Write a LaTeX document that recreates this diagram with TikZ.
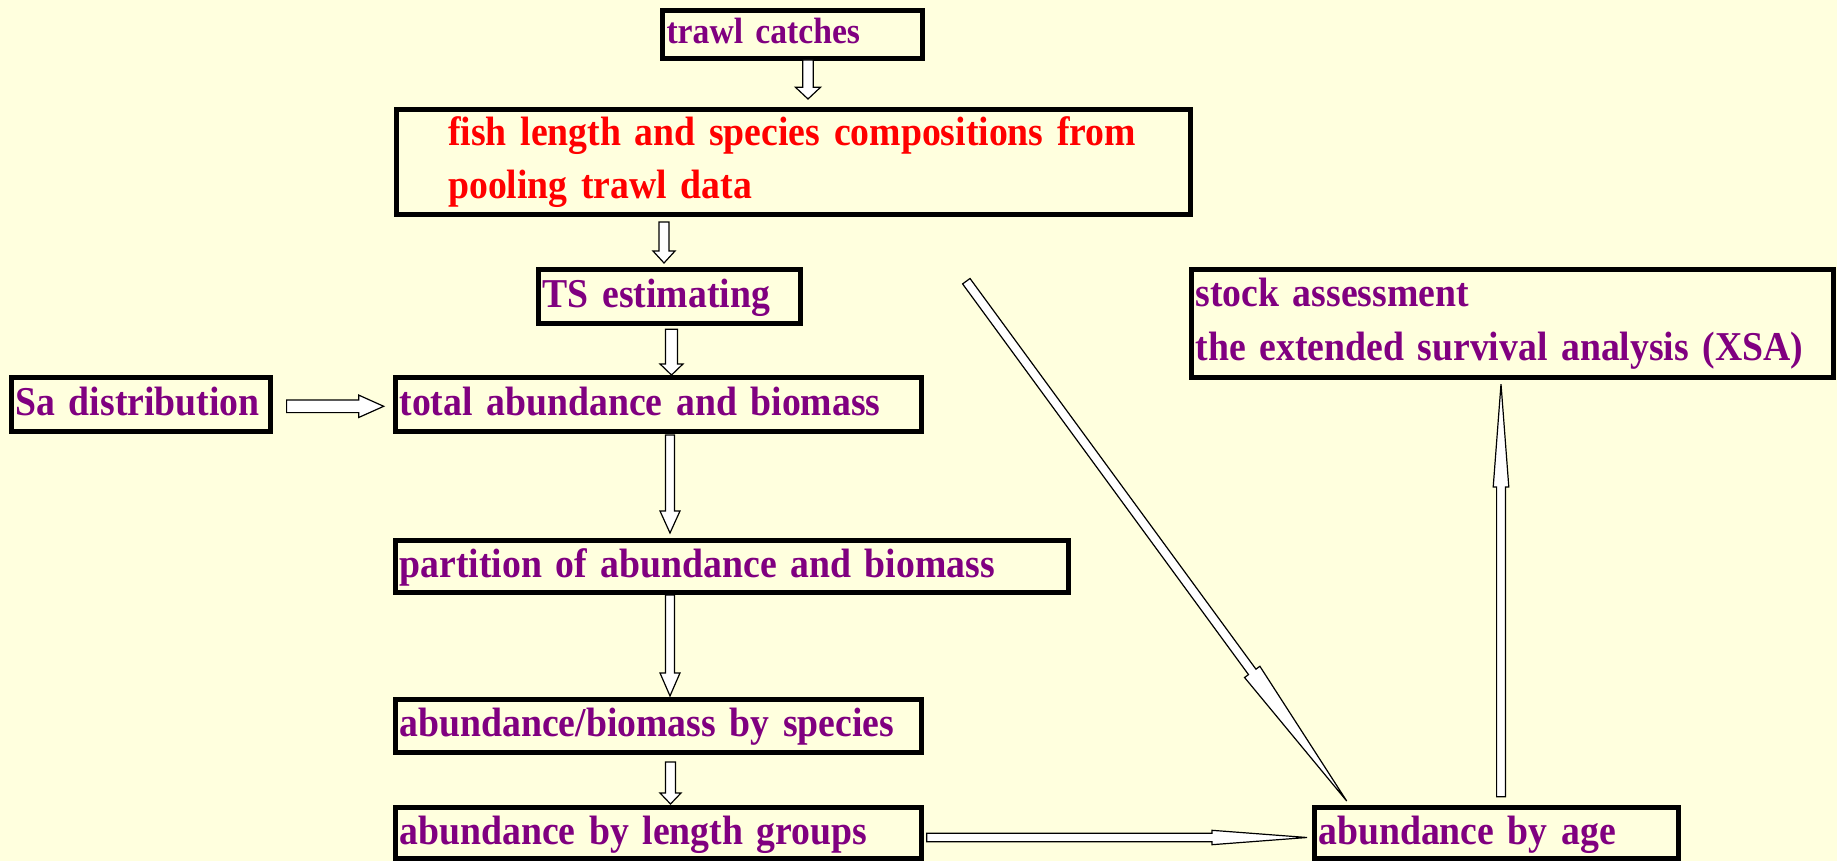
\documentclass[tikz,border=0pt]{standalone}
\usepackage{fontspec}
\setmainfont[FakeStretch=0.92]{Liberation Serif}
\usepackage{tikz}
\usetikzlibrary{calc}
\definecolor{paper}{RGB}{255,255,222}
\definecolor{boxtext}{RGB}{128,0,128}
\protected\def\tightwords{\spaceskip=0.18em\relax}
\tikzset{%
  box/.style={draw, line width=2.5pt, fill=paper, inner xsep=2pt, inner ysep=0pt,
    align=left, text=boxtext, font=\fontsize{20.5}{26.6}\selectfont\bfseries\tightwords},
  single/.style={box, text height=13.8pt, text depth=2.8pt},
  hollow/.style={draw=black, fill=white, line width=0.6pt}
}
% tail, tip, shaft half width, head half width, head length
\newcommand{\hollowarrow}[5]{%
  \draw[hollow] ($(#1)!#3!90:(#2)$)
    -- ($(#2)!#5!(#1)!#3!-90:(#1)$)
    -- ($(#2)!#5!(#1)!#4!-90:(#1)$)
    -- (#2)
    -- ($(#2)!#5!(#1)!#4!90:(#1)$)
    -- ($(#2)!#5!(#1)!#3!90:(#1)$)
    -- ($(#1)!#3!-90:(#2)$) -- cycle;}

\begin{document}
\begin{tikzpicture}[x=0.5pt, y=-0.5pt]
  \useasboundingbox (0,0) rectangle (1837,861);
  \fill[paper] (0,0) rectangle (1837,861);

  \node[single, text width=126pt, minimum height=24pt, text height=12.3pt, text depth=2.8pt,
    font=\fontsize{18.3}{22}\selectfont\bfseries\tightwords] (trawl) at (792.5,34.5) {trawl catches};
  \node[box, text=red, text width=393pt, minimum height=52.5pt] (fish) at (793.2,162.3)
    {\hspace*{24pt}fish length and species compositions from\\\hspace*{24pt}pooling trawl data};
  \node[single, text width=127pt, minimum height=26.7pt] (ts) at (669.5,296.5) {TS estimating};
  \node[single, text width=125.5pt, minimum height=27.15pt] (sa) at (141,404.7) {Sa distribution};
  \node[single, text width=259pt, minimum height=27.15pt] (total) at (658.5,404.7) {total abundance and biomass};
  \node[single, text width=332.5pt, minimum height=26pt] (partition) at (732,566.5) {partition of abundance and biomass};
  \node[single, text width=259pt, minimum height=26.65pt] (species) at (658.5,725.8) {abundance/biomass by species};
  \node[single, text width=259pt, minimum height=25.5pt] (lengths) at (658.5,833) {abundance by length groups};
  \node[single, text width=178.35pt, minimum height=25.5pt] (age) at (1496.6,833) {abundance by age};
  \node[box, text width=317pt, minimum height=53.85pt] (stock) at (1512.5,323.7)
    {stock assessment\\the extended survival analysis (XSA)};

  \coordinate (a1) at ([xshift=7.75pt,yshift=0.5pt]trawl.south);
  \coordinate (b1) at ($(fish.north -| a1)+(0pt,4.15pt)$);
  \hollowarrow{a1}{b1}{2.65pt}{6.25pt}{5.85pt}

  \coordinate (a2) at ([xshift=-64.6pt,yshift=-2.35pt]fish.south);
  \coordinate (b2) at ($(ts.north -| a2)+(0pt,2.15pt)$);
  \hollowarrow{a2}{b2}{2.5pt}{5.5pt}{6pt}

  \coordinate (a3) at ([xshift=1pt,yshift=-1.8pt]ts.south);
  \coordinate (b3) at (total.north -| a3);
  \hollowarrow{a3}{b3}{3pt}{5.7pt}{5.5pt}

  \coordinate (a4) at ([xshift=6.8pt,yshift=-0.8pt]sa.east);
  \coordinate (b4) at ($(total.west |- a4)+(-4.65pt,0pt)$);
  \hollowarrow{a4}{b4}{3.15pt}{5.6pt}{12.5pt}

  \coordinate (a5) at ([xshift=5.75pt,yshift=-0.35pt]total.south);
  \coordinate (b5) at ($(partition.north -| a5)+(0pt,2.5pt)$);
  \hollowarrow{a5}{b5}{2.25pt}{5pt}{11pt}

  \coordinate (a6) at ([xshift=-31pt]partition.south);
  \coordinate (b6) at ($(species.north -| a6)+(0pt,0.35pt)$);
  \hollowarrow{a6}{b6}{2.25pt}{5pt}{11.5pt}

  \coordinate (a7) at ([xshift=6pt,yshift=-3.5pt]species.south);
  \coordinate (b7) at ($(lengths.north -| a7)+(0pt,0.5pt)$);
  \hollowarrow{a7}{b7}{2.5pt}{5.25pt}{5.5pt}

  \coordinate (a8) at ([xshift=1.35pt,yshift=-2.25pt]lengths.east);
  \coordinate (b8) at ($(age.west |- a8)+(-2.4pt,0pt)$);
  \hollowarrow{a8}{b8}{2.1pt}{3.6pt}{47.5pt}

  \coordinate (a9) at ([xshift=2.2pt,yshift=4.15pt]age.north);
  \coordinate (b9) at ($(stock.south -| a9)+(0pt,-2pt)$);
  \hollowarrow{a9}{b9}{2.2pt}{3.9pt}{51.5pt}

  % long one from the compositions down to the ages
  \coordinate (a10) at ([xshift=86.55pt,yshift=-31.95pt]fish.south);
  \coordinate (b10) at ([xshift=-74.95pt,yshift=2pt]age.north);
  \hollowarrow{a10}{b10}{2.3pt}{4.75pt}{80pt}
\end{tikzpicture}
\end{document}
